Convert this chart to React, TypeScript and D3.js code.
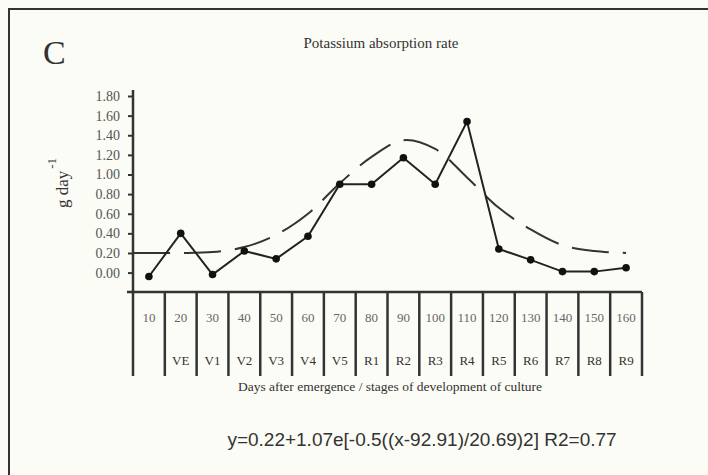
import React, { useRef, useEffect } from 'react';
import * as d3 from 'd3';

const days = [10, 20, 30, 40, 50, 60, 70, 80, 90, 100, 110, 120, 130, 140, 150, 160];
const stages = ['', 'VE', 'V1', 'V2', 'V3', 'V4', 'V5', 'R1', 'R2', 'R3', 'R4', 'R5', 'R6', 'R7', 'R8', 'R9'];
const rate = [-0.04, 0.4, -0.02, 0.22, 0.14, 0.37, 0.9, 0.9, 1.17, 0.9, 1.54, 0.24, 0.13, 0.01, 0.01, 0.05];
const fitDays = [5, 10, 20, 30, 40, 50, 60, 70, 80, 90, 100, 110, 120, 130, 140, 150, 160];
const fitRate = [0.2, 0.2, 0.2, 0.21, 0.26, 0.385, 0.6, 0.91, 1.18, 1.35, 1.26, 0.97, 0.66, 0.44, 0.28, 0.22, 0.2];
const yTicks = [0, 0.2, 0.4, 0.6, 0.8, 1.0, 1.2, 1.4, 1.6, 1.8];

const W = 708;
const H = 475;
const serif = '"Liberation Serif", "DejaVu Serif", serif';

const App = () => {
    const svgRef = useRef<SVGSVGElement>(null);

    useEffect(() => {
        const svg = d3.select(svgRef.current);
        svg.selectAll('*').remove();

        const left = 133;
        const right = 642;
        const axisY = 292;
        const tableBottom = 376;

        const x = d3.scaleLinear().domain([5, 165]).range([left, right]);
        const y = d3.scaleLinear().domain([0, 1.8]).range([272.6, 96]);

        svg.append('rect').attr('width', W).attr('height', H).attr('fill', '#fcfcf6');

        // frame (top and left only)
        svg.append('path')
            .attr('d', `M9,${H}V9H${W}`)
            .attr('fill', 'none')
            .attr('stroke', '#333')
            .attr('stroke-width', 2);

        svg.append('text')
            .attr('x', 43).attr('y', 64)
            .attr('font-family', serif).attr('font-size', 34)
            .attr('fill', '#333')
            .text('C');

        svg.append('text')
            .attr('x', 381).attr('y', 48)
            .attr('text-anchor', 'middle')
            .attr('font-family', serif).attr('font-size', 15)
            .attr('fill', '#333')
            .text('Potassium absorption rate');

        // y axis
        const yAxis = svg.append('g')
            .attr('transform', `translate(${left},0)`)
            .call(d3.axisLeft(y).tickValues(yTicks).tickSize(5).tickPadding(8).tickFormat(d3.format('.2f')));
        yAxis.select('.domain').remove();
        yAxis.selectAll('line').attr('stroke', '#333').attr('stroke-width', 2);
        yAxis.selectAll('text')
            .attr('font-family', serif).attr('font-size', 14).attr('fill', '#555');

        svg.append('line')
            .attr('x1', left).attr('x2', left)
            .attr('y1', 90).attr('y2', tableBottom)
            .attr('stroke', '#333').attr('stroke-width', 2.5);

        const yLabel = svg.append('text')
            .attr('transform', 'translate(68,183) rotate(-90)')
            .attr('text-anchor', 'middle')
            .attr('font-family', serif).attr('font-size', 17)
            .attr('fill', '#333');
        yLabel.append('tspan').text('g day');
        yLabel.append('tspan').attr('dy', -12).attr('dx', 2).attr('font-size', 13).text('-1');

        // table under the plot
        svg.append('line')
            .attr('x1', 127).attr('x2', right)
            .attr('y1', axisY).attr('y2', axisY)
            .attr('stroke', '#333').attr('stroke-width', 2.5);

        const edges = days.map(d => d + 5);
        svg.append('g')
            .selectAll('line')
            .data(edges)
            .join('line')
            .attr('x1', d => x(d)).attr('x2', d => x(d))
            .attr('y1', axisY).attr('y2', tableBottom)
            .attr('stroke', '#333').attr('stroke-width', 2.5);

        svg.append('g')
            .selectAll('text')
            .data(days)
            .join('text')
            .attr('x', d => x(d)).attr('y', 322)
            .attr('text-anchor', 'middle')
            .attr('font-family', serif).attr('font-size', 13)
            .attr('fill', '#666')
            .text(d => d);

        svg.append('g')
            .selectAll('text')
            .data(stages)
            .join('text')
            .attr('x', (d, i) => x(days[i])).attr('y', 365)
            .attr('text-anchor', 'middle')
            .attr('font-family', serif).attr('font-size', 13)
            .attr('fill', '#333')
            .text(d => d);

        svg.append('text')
            .attr('x', 390).attr('y', 391)
            .attr('text-anchor', 'middle')
            .attr('font-family', serif).attr('font-size', 13.5)
            .attr('fill', '#333')
            .text('Days after emergence / stages of development of culture');

        // fitted curve
        const fitLine = d3.line<number>()
            .x((d, i) => x(fitDays[i]))
            .y(d => y(d))
            .curve(d3.curveCatmullRom);
        svg.append('path')
            .datum(fitRate)
            .attr('d', fitLine)
            .attr('fill', 'none')
            .attr('stroke', '#333')
            .attr('stroke-width', 2)
            .attr('stroke-dasharray', '37 14');

        // observed rate
        const line = d3.line<number>()
            .x((d, i) => x(days[i]))
            .y(d => y(d));
        svg.append('path')
            .datum(rate)
            .attr('d', line)
            .attr('fill', 'none')
            .attr('stroke', '#222')
            .attr('stroke-width', 2);

        svg.append('g')
            .selectAll('circle')
            .data(rate)
            .join('circle')
            .attr('cx', (d, i) => x(days[i]))
            .attr('cy', d => y(d))
            .attr('r', 3.8)
            .attr('fill', '#111');

        svg.append('text')
            .attr('x', 422).attr('y', 446)
            .attr('text-anchor', 'middle')
            .attr('font-family', '"Liberation Sans", Arial, sans-serif').attr('font-size', 19)
            .attr('fill', '#333')
            .text('y=0.22+1.07e[-0.5((x-92.91)/20.69)2] R2=0.77');
    }, []);

    return (
        <svg ref={svgRef} width={W} height={H} style={{ position: 'absolute', left: 0, top: 0 }} />
    );
};

export default App;
